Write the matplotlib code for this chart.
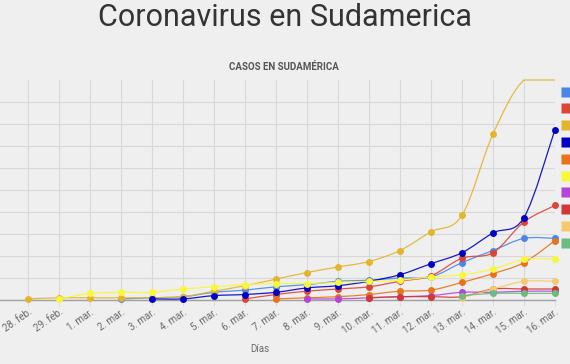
import numpy as np
import matplotlib.pyplot as plt
from matplotlib.path import Path
from matplotlib.patches import PathPatch
from matplotlib.lines import Line2D

plt.rcParams['font.family'] = ['Roboto', 'DejaVu Sans']

dias = ['28. feb.', '29. feb.', '1. mar.', '2. mar.', '3. mar.', '4. mar.',
        '5. mar.', '6. mar.', '7. mar.', '8. mar.', '9. mar.', '10. mar.',
        '11. mar.', '12. mar.', '13. mar.', '14. mar.', '15. mar.', '16. mar.']

n = None
argentina = [n, n, n, 1, 2, 3, 7, 9, 12, 14, 17, 18, 20, 21, 34, 45, 56, 56]
peru = [n, n, n, n, n, n, n, 1, 5, 8, 10, 12, 17, 22, 38, 43, 71, 86]
brasil = [1, 2, 2, 2, 2, 3, 8, 13, 19, 25, 30, 35, 45, 62, 77, 151, 200, 234]
chile = [n, n, n, n, 1, 1, 4, 5, 7, 11, 13, 17, 23, 33, 43, 61, 75, 155]
colombia = [n, n, n, n, n, n, n, n, 1, 2, 3, 5, 8, 9, 16, 24, 34, 54]
ecuador = [n, 1, 6, 7, 7, 10, 12, 14, 15, 15, 16, 17, 18, 21, 23, 28, 37, 37]
paraguay = [n, n, n, n, n, n, n, n, n, 1, 1, 2, 3, 4, 7, 7, 8, 8]
bolivia = [n, n, n, n, n, n, n, n, n, n, n, 2, 3, 3, 3, 10, 10, 10]
venezuela = [n, n, n, n, n, n, n, n, n, n, n, n, n, n, 2, 10, 17, 17]
uruguay = [n, n, n, n, n, n, n, n, n, n, n, n, n, n, 4, 6, 6, 6]

series = [argentina, peru, brasil, chile, colombia, ecuador,
          paraguay, bolivia, venezuela, uruguay]
colores = ['#4a86e8', '#dc4437', '#e3b52b', '#0000c4', '#e8731a',
           '#f8f838', '#b445d6', '#d03838', '#f6c870', '#6cbb82']

ymax = 200
bg = '#efefef'


def curva(xs, ys, k=1.0, tope=None):
    # smooth line through the points (like curveType: 'function')
    pts = np.column_stack([xs, ys]).astype(float)
    m = len(pts)
    verts = [pts[0]]
    codes = [Path.MOVETO]
    for i in range(m - 1):
        p0 = pts[max(i - 1, 0)]
        p1 = pts[i]
        p2 = pts[i + 1]
        p3 = pts[min(i + 2, m - 1)]
        verts += [p1 + (p2 - p0) / 6 * k, p2 - (p3 - p1) / 6 * k, p2]
        codes += [Path.CURVE4] * 3
    verts = np.array(verts)
    if tope is not None:
        verts[:, 1] = np.minimum(verts[:, 1], tope)
    return Path(verts, codes)


fig = plt.figure(figsize=(5.70, 3.64), dpi=100, facecolor=bg)
ax = fig.add_axes([0, (364 - 300) / 364, 555 / 570, 220 / 364])
ax.set_facecolor(bg)

x = np.arange(len(dias))
for i, (vals, col) in enumerate(zip(series, colores)):
    v = np.array([np.nan if a is None else a for a in vals], dtype=float)
    ok = ~np.isnan(v)
    xs, ys = x[ok], np.minimum(v[ok], ymax)
    if len(xs) > 1:
        ax.add_patch(PathPatch(curva(xs, ys, tope=ymax), fill=False,
                               edgecolor=col, lw=0.9, alpha=0.9,
                               zorder=3 + i, clip_on=False))
    vis = v[ok] < ymax
    ax.plot(xs[vis], ys[vis], 'o', color=col, ms=5, mec='none',
            zorder=3 + i, clip_on=False)

ax.set_xlim(-28 / 31, 17)
ax.set_ylim(0, ymax)
ax.set_yticks(np.arange(0, ymax, 20))
ax.set_yticklabels([])
ax.tick_params(axis='y', length=0)
ax.set_xticks(x)
ax.set_xticklabels(dias, rotation=35, ha='right', rotation_mode='anchor',
                   fontsize=7, color='#6a6a6a')
ax.tick_params(axis='x', length=4, color='#dddddd', pad=1)
ax.grid(True, color='#d8d8d8', lw=0.8)
ax.set_axisbelow(True)
for s in ['top', 'right', 'left']:
    ax.spines[s].set_visible(False)
ax.spines['bottom'].set_color('#a0a0a0')
ax.spines['bottom'].set_linewidth(1)
ax.spines['bottom'].set_zorder(2)

fig.text(0.5, 1 - 18 / 364, 'Coronavirus en Sudamerica', ha='center',
         va='center', fontsize=22, color='#333333')
fig.text(284 / 570, 1 - 67 / 364, 'CASOS EN SUDAMÉRICA', ha='center',
         va='center', fontsize=7, fontweight='bold', color='#555555')
fig.text(260 / 570, 1 - 349 / 364, 'Días', ha='center', va='center',
         fontsize=7, color='#6a6a6a')

# legend: only the colour squares fit inside the picture
handles = [Line2D([], [], marker='s', ls='none', color=c, ms=6.5, mec='none')
           for c in colores]
fig.legend(handles, [''] * len(handles), loc='upper left',
           bbox_to_anchor=(562.5 / 570, 1 - 87 / 364), frameon=False,
           fontsize=7, handlelength=0.8, handletextpad=0.6,
           labelspacing=0.7, borderpad=0, borderaxespad=0)

fig.savefig('out.png', dpi=100, facecolor=bg)
